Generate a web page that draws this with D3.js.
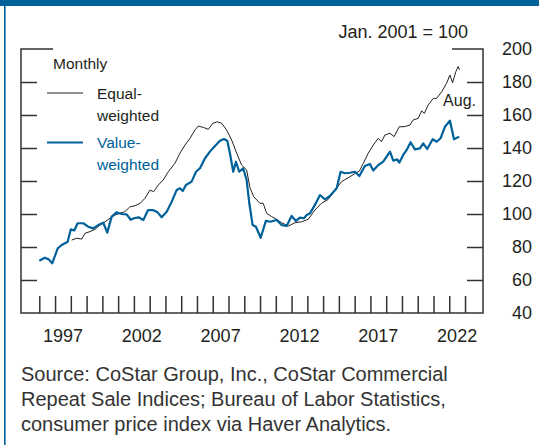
<!DOCTYPE html>
<html>
<head>
<meta charset="utf-8">
<script src="https://cdn.jsdelivr.net/npm/d3@7"></script>
<style>
  body { margin: 0; background: #fff; }
  svg { display: block; font-family: "Liberation Sans", Arial, sans-serif; }
  .axis path, .axis line { stroke: #333; stroke-width: 1.5px; }
</style>
</head>
<body>
<script>
// Index values, Jan. 2001 = 100
var valueWeighted = [
  [1996.0, 71.7], [1996.35, 73.5], [1996.6, 72.5], [1996.82, 70.1], [1997.17, 79.2],
  [1997.42, 81.2], [1997.8, 83.2], [1998.0, 90.7], [1998.22, 90.0], [1998.43, 94.4],
  [1998.79, 94.4], [1999.1, 92.3], [1999.42, 91.3], [1999.74, 93.3], [2000.06, 94.7],
  [2000.31, 88.7], [2000.59, 98.4], [2000.9, 101.0], [2001.22, 100.0], [2001.54, 99.8],
  [2001.8, 96.5], [2002.0, 97.4], [2002.3, 98.0], [2002.6, 96.4], [2002.9, 102.4],
  [2003.2, 102.4], [2003.5, 101.0], [2003.76, 98.0], [2004.08, 101.4], [2004.4, 107.5],
  [2004.71, 114.5], [2004.92, 115.6], [2005.1, 113.9], [2005.3, 117.6], [2005.66, 119.6],
  [2005.94, 125.6], [2006.19, 127.7], [2006.51, 133.8], [2006.82, 137.8], [2007.14, 141.2],
  [2007.46, 144.4], [2007.71, 145.5], [2007.92, 144.4], [2008.09, 136.8], [2008.3, 125.6],
  [2008.47, 131.7], [2008.68, 125.6], [2008.93, 127.7], [2009.15, 120.6], [2009.32, 106.5],
  [2009.53, 93.3], [2009.74, 92.3], [2010.04, 85.6], [2010.37, 95.8], [2010.63, 95.3],
  [2011.05, 96.4], [2011.37, 93.3], [2011.69, 92.7], [2012.0, 98.8], [2012.28, 95.8],
  [2012.53, 97.8], [2012.78, 97.4], [2012.96, 99.4], [2013.17, 100.4], [2013.48, 105.5],
  [2013.8, 111.5], [2014.12, 108.9], [2014.43, 110.9], [2014.86, 115.6], [2015.11, 125.6],
  [2015.38, 124.7], [2015.7, 125.0], [2016.02, 125.6], [2016.3, 123.0], [2016.65, 129.1],
  [2016.97, 130.3], [2017.18, 126.3], [2017.5, 129.7], [2017.81, 131.7], [2018.03, 134.8],
  [2018.24, 137.8], [2018.45, 132.3], [2018.7, 133.1], [2018.83, 131.1], [2019.08, 135.8],
  [2019.3, 138.8], [2019.55, 143.5], [2019.82, 139.2], [2020.14, 139.8], [2020.35, 142.8],
  [2020.6, 139.4], [2020.95, 145.3], [2021.2, 143.8], [2021.45, 145.9], [2021.73, 152.9],
  [2022.04, 156.6], [2022.3, 145.3], [2022.63, 146.9]
];

var equalWeighted = [
  [1998.05, 84.2], [1998.37, 85.3], [1998.69, 84.8], [1998.9, 88.3], [1999.21, 89.3],
  [1999.53, 90.7], [1999.85, 93.3], [2000.17, 95.3], [2000.48, 97.4], [2000.8, 99.4],
  [2001.1, 100.4], [2001.43, 101.4], [2001.75, 104.4], [2002.07, 105.0], [2002.4, 106.5],
  [2002.7, 109.5], [2003.02, 114.5], [2003.25, 113.5], [2003.55, 117.6], [2003.86, 120.6],
  [2004.18, 125.6], [2004.6, 130.7], [2004.92, 136.8], [2005.24, 141.8], [2005.56, 145.9],
  [2005.87, 150.9], [2006.08, 153.3], [2006.4, 152.5], [2006.72, 151.3], [2007.0, 155.0],
  [2007.29, 155.9], [2007.57, 155.0], [2007.88, 150.9], [2008.2, 144.8], [2008.52, 136.8],
  [2008.83, 129.7], [2009.15, 126.7], [2009.36, 116.0], [2009.6, 110.5], [2009.99, 106.5],
  [2010.2, 106.5], [2010.42, 100.4], [2010.74, 98.4], [2011.05, 96.8], [2011.37, 94.7],
  [2011.79, 92.7], [2012.21, 94.7], [2012.64, 95.3], [2013.06, 96.8], [2013.48, 102.4],
  [2013.9, 106.5], [2014.33, 108.9], [2014.75, 114.5], [2015.17, 119.6], [2015.7, 122.6],
  [2016.02, 124.5], [2016.3, 126.0], [2016.55, 130.7], [2016.86, 136.8], [2017.18, 141.8],
  [2017.5, 145.9], [2017.7, 143.8], [2017.92, 147.9], [2018.24, 148.9], [2018.5, 146.9],
  [2018.83, 152.9], [2019.15, 152.9], [2019.5, 153.9], [2019.72, 157.0], [2020.03, 158.0],
  [2020.25, 162.5], [2020.42, 161.0], [2020.66, 166.0], [2020.99, 170.1], [2021.2, 170.1],
  [2021.52, 174.1], [2021.83, 179.2], [2022.04, 184.2], [2022.21, 179.6], [2022.42, 186.3],
  [2022.56, 189.4], [2022.66, 187.3]
];

var yearTicks = d3.range(1996, 2024);
var yearLabels = [1997, 2002, 2007, 2012, 2017, 2022];
var valueTicks = [40, 60, 80, 100, 120, 140, 160, 180, 200];
var sourceLines = [
  "Source: CoStar Group, Inc., CoStar Commercial",
  "Repeat Sale Indices; Bureau of Labor Statistics,",
  "consumer price index via Haver Analytics."
];

var width = 539, height = 445;
var blue = "#00619a", ink = "#231f20";

var svg = d3.select("body").append("svg")
    .attr("width", width)
    .attr("height", height);

// frame: bar on top, thin rule on the left
svg.append("rect").attr("x", 0).attr("y", 0).attr("width", width).attr("height", 6).attr("fill", blue);
svg.append("rect").attr("x", 4).attr("y", 0).attr("width", 1.6).attr("height", height).attr("fill", blue);

var x = d3.scaleLinear().domain([1994.84, 2024.14]).range([21, 483]);
var y = d3.scaleLinear().domain([40, 200]).range([313, 49]);

// left and right axes, ticks pointing inwards
var inner = valueTicks.filter(function(d){ return d > 40 && d < 200; });

svg.append("g").attr("class", "axis")
    .attr("transform", "translate(21,0)")
    .call(d3.axisLeft(y).tickValues(inner).tickSize(-16).tickFormat("").tickSizeOuter(0))
    .call(function(g){ g.select(".domain").remove(); });
svg.append("g").attr("class", "axis")
    .attr("transform", "translate(483,0)")
    .call(d3.axisRight(y).tickValues(inner).tickSize(-16).tickFormat("").tickSizeOuter(0))
    .call(function(g){ g.select(".domain").remove(); });

// the long ticks at 200
svg.append("path").attr("fill", "none").attr("stroke", "#333").attr("stroke-width", 1.5)
    .attr("d", "M53," + y(200) + "H21V" + y(40) + "H483V" + y(200) + "H452");

// year ticks from the bottom axis upwards
svg.append("g").attr("class", "axis")
    .attr("transform", "translate(0,313)")
    .call(d3.axisBottom(x).tickValues(yearTicks).tickSize(-17).tickFormat("").tickSizeOuter(0))
    .call(function(g){ g.select(".domain").remove(); });

// labels
svg.append("g").selectAll("text")
    .data(valueTicks).enter().append("text")
    .attr("x", 532).attr("y", function(d){ return y(d); })
    .attr("dy", "0.36em")
    .attr("text-anchor", "end")
    .attr("font-size", 18).attr("fill", ink)
    .text(function(d){ return d; });

svg.append("g").selectAll("text")
    .data(yearLabels).enter().append("text")
    .attr("x", function(d){ return x(d + 0.5); }).attr("y", 342)
    .attr("text-anchor", "middle")
    .attr("font-size", 18).attr("fill", ink)
    .text(function(d){ return d; });

svg.append("text").attr("x", 468).attr("y", 38)
    .attr("text-anchor", "end").attr("font-size", 18).attr("fill", ink)
    .text("Jan. 2001 = 100");

// lines
var line = d3.line()
    .x(function(d){ return x(d[0]); })
    .y(function(d){ return y(d[1]); });

svg.append("path").datum(equalWeighted)
    .attr("fill", "none").attr("stroke", "#222").attr("stroke-width", 1)
    .attr("d", line);
svg.append("path").datum(valueWeighted)
    .attr("fill", "none").attr("stroke", blue).attr("stroke-width", 2.2)
    .attr("stroke-linejoin", "round")
    .attr("d", line);

svg.append("text").attr("x", 476).attr("y", 106)
    .attr("text-anchor", "end").attr("font-size", 16).attr("fill", ink)
    .text("Aug.");

// legend
var legend = svg.append("g").attr("font-size", 15.5);
legend.append("text").attr("x", 53).attr("y", 69).attr("fill", ink).text("Monthly");
legend.append("line").attr("x1", 47).attr("x2", 83).attr("y1", 93).attr("y2", 93)
    .attr("stroke", "#222").attr("stroke-width", 1);
legend.append("text").attr("x", 97).attr("y", 99).attr("fill", ink).text("Equal-");
legend.append("text").attr("x", 97).attr("y", 121).attr("fill", ink).text("weighted");
legend.append("line").attr("x1", 47).attr("x2", 83).attr("y1", 142.5).attr("y2", 142.5)
    .attr("stroke", blue).attr("stroke-width", 2.2);
legend.append("text").attr("x", 97).attr("y", 148).attr("fill", blue).text("Value-");
legend.append("text").attr("x", 97).attr("y", 170).attr("fill", blue).text("weighted");

// source note
svg.append("g").selectAll("text")
    .data(sourceLines).enter().append("text")
    .attr("x", 21).attr("y", function(d, i){ return 381 + i * 25; })
    .attr("font-size", 20).attr("fill", "#333")
    .text(function(d){ return d; });
</script>
</body>
</html>
